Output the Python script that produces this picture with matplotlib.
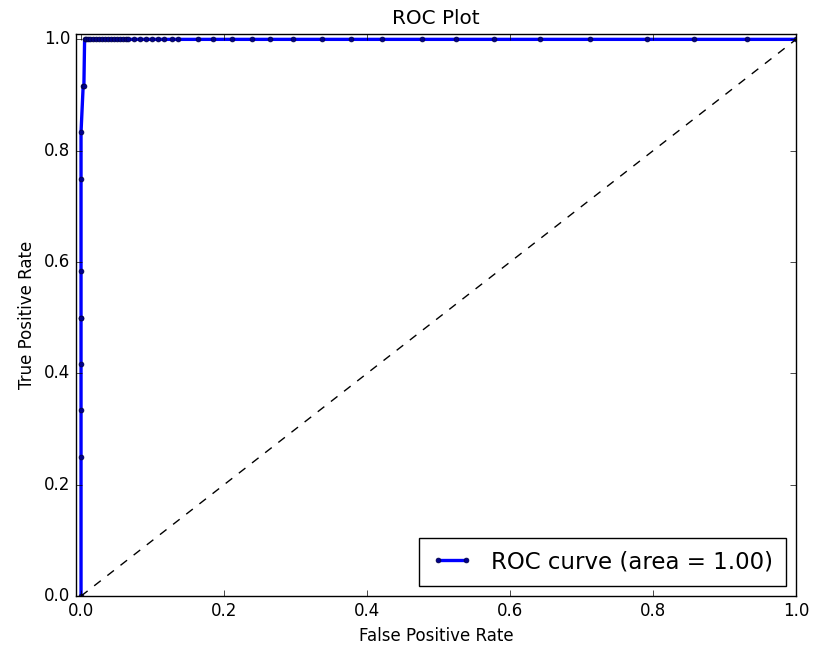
import numpy as np
import matplotlib
matplotlib.use('Agg')
import matplotlib.pyplot as plt

# roc points
fpr = [0.0, 0.0, 0.0, 0.0, 0.0, 0.0, 0.0, 0.0, 0.0, 0.003, 0.004,
       0.005, 0.007, 0.0098, 0.0126, 0.0168, 0.021, 0.0252, 0.0294, 0.0336,
       0.0378, 0.042, 0.046, 0.050, 0.0545, 0.0587, 0.063, 0.066, 0.0745,
       0.0825, 0.0905, 0.099, 0.108, 0.1165, 0.127, 0.136, 0.163, 0.185,
       0.211, 0.239, 0.264, 0.297, 0.337, 0.377, 0.421, 0.477, 0.524,
       0.578, 0.642, 0.712, 0.791, 0.857, 0.931, 1.0]
tpr = [0.0, 0.25, 1/3., 5/12., 0.5, 0.5, 7/12., 0.75, 5/6., 11/12., 11/12.] + \
      [1.0] * 43
roc_auc = 1.00

plt.style.use('classic')
fig = plt.figure(figsize=(8.14, 6.5), dpi=100)
ax = fig.add_axes([0.0934, 0.083, 0.8846, 0.865])
ax.plot(fpr, tpr, '.-', color='b', lw=2.4, markersize=7,
        markeredgecolor='#000040', markerfacecolor='#00008b',
        label='ROC curve (area = %0.2f)' % roc_auc)
ax.plot([0, 1], [0, 1], 'k--')
ax.set_xlim([-0.007, 1.0])
ax.set_ylim([0.0, 1.01])
ax.set_xlabel('False Positive Rate')
ax.set_ylabel('True Positive Rate', labelpad=6)
ax.set_title('ROC Plot', y=1.005)
ax.legend(loc='lower right', numpoints=2, fontsize=16.5, borderpad=0.55,
          handlelength=1.8, borderaxespad=0.45)
fig.savefig('out.png')
